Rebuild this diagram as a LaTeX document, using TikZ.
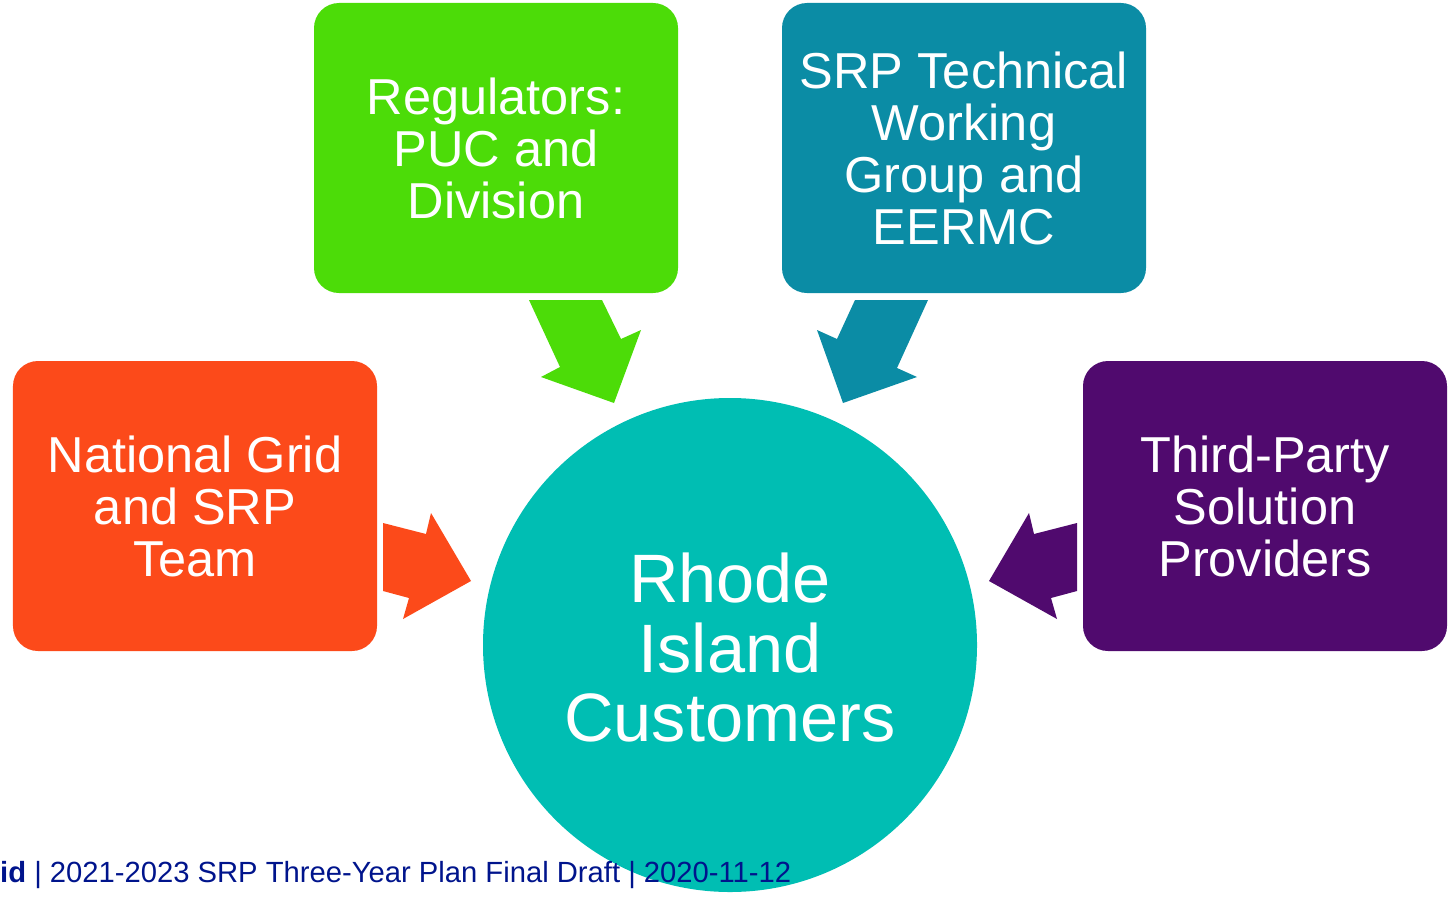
\documentclass[tikz,border=0pt]{standalone}
\usepackage{fontspec}
\setmainfont{Liberation Sans}
\definecolor{cOrange}{HTML}{FC4A1A}
\definecolor{cGreen}{HTML}{4CDC08}
\definecolor{cTeal}{HTML}{0B8CA5}
\definecolor{cPurple}{HTML}{500A6E}
\definecolor{cCircle}{HTML}{00BEB3}
\definecolor{cFoot}{HTML}{00148C}
\begin{document}
\begin{tikzpicture}[x=1bp,y=-1bp,
  boxnode/.style={rectangle,rounded corners=25bp,minimum width=364bp,minimum height=290bp,
    text=white,align=center,inner sep=0pt,font=\fontsize{50.5bp}{52bp}\selectfont},
  bigcircle/.style={circle,fill=cCircle,minimum size=494bp,inner sep=0pt,text=white,align=center,
    font=\fontsize{68.5bp}{69.5bp}\selectfont},
  blockarrow/.style={draw=none}]
\useasboundingbox (0,0) rectangle (1449,902);
% boxes
\node[boxnode,fill=cOrange] (ng) at (195,506) {National Grid\\and SRP\\Team};
\node[boxnode,fill=cGreen] (reg) at (496,148) {Regulators:\\PUC and\\Division};
\node[boxnode,fill=cTeal] (twg) at (964,148) {SRP Technical\\Working\\Group and\\EERMC};
\node[boxnode,fill=cPurple] (tp) at (1265,506) {Third-Party\\Solution\\Providers};
% circle
\node[bigcircle] (ri) at (730,645) {};
\node[text=white,align=center,inner sep=0pt,font=\fontsize{68.5bp}{69.5bp}\selectfont] (ritext) at (730,648) {Rhode\\Island\\Customers};
% block arrows
\fill[blockarrow,cGreen] (529,300) -- (602,300) -- (621,339) -- (641,330) -- (614,403) -- (541,377) -- (560,367) -- cycle;
\fill[blockarrow,cTeal] (855,300) -- (928,300) -- (897,368) -- (917,377) -- (843,403) -- (817,330) -- (837,339) -- cycle;
\fill[blockarrow,cOrange] (383,523) -- (426,534) -- (431,513) -- (471,581) -- (403,619) -- (409,598) -- (383,591) -- cycle;
\fill[blockarrow,cPurple] (1077,523) -- (1034,534) -- (1029,513) -- (989,581) -- (1057,619) -- (1051,598) -- (1077,591) -- cycle;
% footer
\node[anchor=base west,inner sep=0pt,text=cFoot,font=\fontsize{29.2bp}{32bp}\selectfont] (foot) at (0,882)
  {\textbf{id} | 2021-2023 SRP Three-Year Plan Final Draft | 2020-11-12};
\end{tikzpicture}
\end{document}
